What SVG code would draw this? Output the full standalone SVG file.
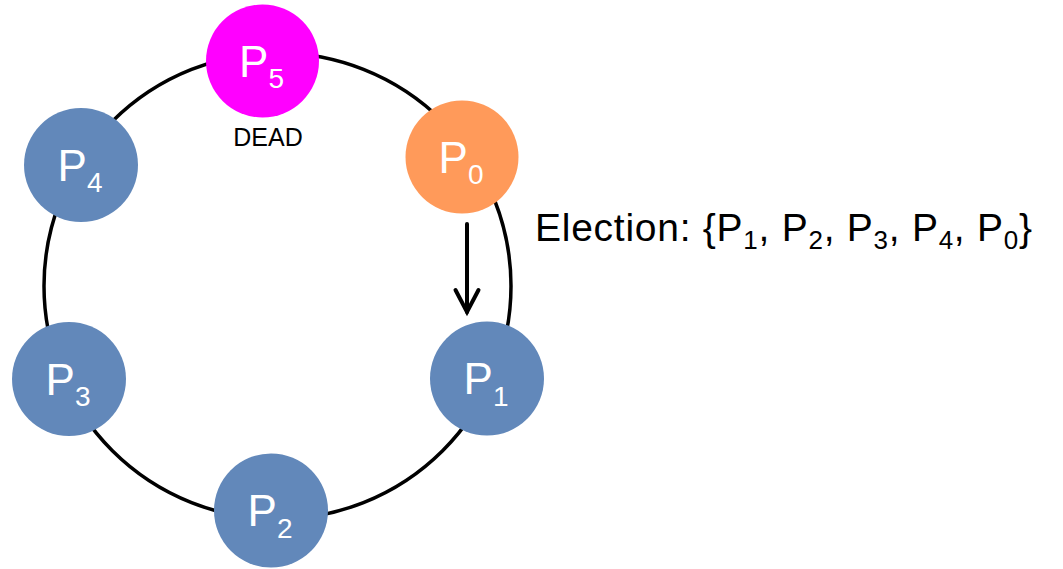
<svg xmlns="http://www.w3.org/2000/svg" width="1063" height="569" viewBox="0 0 1063 569">
  <style>
    .node { stroke: none; }
    .blue { fill: #6288BA; }
    .orange { fill: #FF9A5A; }
    .magenta { fill: #FF00FF; }
    .lbl { font-family: "Liberation Sans", Arial, sans-serif; font-size: 44px; fill: #FFFFFF; text-anchor: middle; }
    .sub { font-size: 28px; }
    .txt { font-family: "Liberation Sans", Arial, sans-serif; fill: #000000; }
    .ring { fill: none; stroke: #000000; stroke-width: 3.5; }
    .arrow { fill: none; stroke: #000000; stroke-width: 4; stroke-linecap: round; stroke-linejoin: miter; }
  </style>
  <rect width="1063" height="569" fill="#FFFFFF"/>
  <g id="connectors">
    <ellipse class="ring" cx="277.5" cy="286" rx="233.5" ry="233"/>
    <path class="arrow" d="M467 224 L467 312"/>
    <path class="arrow" d="M455.5 290 L467 312 L478.5 290"/>
  </g>
  <g id="P5">
    <circle class="node magenta" cx="262.5" cy="61" r="56.5"/>
    <text class="lbl" x="261.5" y="76.7">P<tspan class="sub" dy="11.5">5</tspan></text>
    <text class="txt" x="268" y="146" font-size="25" text-anchor="middle">DEAD</text>
  </g>
  <g id="P0">
    <circle class="node orange" cx="462" cy="157" r="56.5"/>
    <text class="lbl" x="461" y="172.7">P<tspan class="sub" dy="11.5">0</tspan></text>
  </g>
  <g id="P1">
    <circle class="node blue" cx="487" cy="378.5" r="57"/>
    <text class="lbl" x="486" y="394.2">P<tspan class="sub" dy="11.5">1</tspan></text>
  </g>
  <g id="P2">
    <circle class="node blue" cx="271" cy="510.5" r="57"/>
    <text class="lbl" x="270" y="526.2">P<tspan class="sub" dy="11.5">2</tspan></text>
  </g>
  <g id="P3">
    <circle class="node blue" cx="69" cy="379" r="57"/>
    <text class="lbl" x="68" y="394.7">P<tspan class="sub" dy="11.5">3</tspan></text>
  </g>
  <g id="P4">
    <circle class="node blue" cx="81" cy="165" r="57"/>
    <text class="lbl" x="80" y="180.7">P<tspan class="sub" dy="11.5">4</tspan></text>
  </g>
  <g id="election">
    <text class="txt" x="535" y="241" font-size="39" textLength="497" lengthAdjust="spacing">Election: {P<tspan font-size="26" dy="8">1</tspan><tspan dy="-8">, P</tspan><tspan font-size="26" dy="8">2</tspan><tspan dy="-8">, P</tspan><tspan font-size="26" dy="8">3</tspan><tspan dy="-8">, P</tspan><tspan font-size="26" dy="8">4</tspan><tspan dy="-8">, P</tspan><tspan font-size="26" dy="8">0</tspan><tspan dy="-8">}</tspan></text>
  </g>
</svg>
